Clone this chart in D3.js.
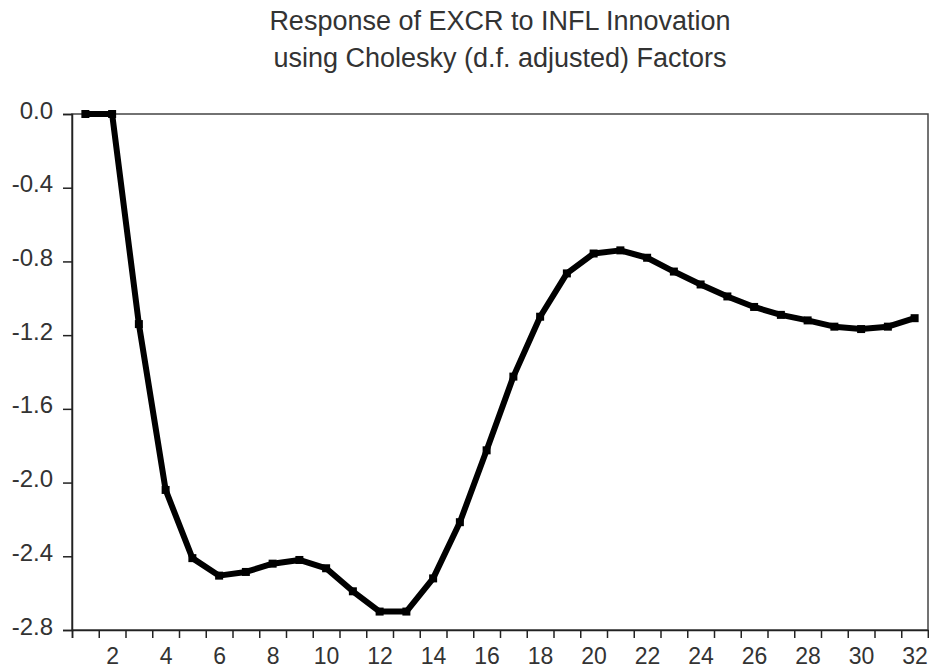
<!DOCTYPE html>
<html>
<head>
<meta charset="utf-8">
<script src="https://cdn.jsdelivr.net/npm/d3@7"></script>
<style>
  body { margin: 0; background: #fff; }
  text { font-family: "Liberation Sans", Arial, sans-serif; fill: #333; }
</style>
</head>
<body>
<script>
/*global d3*/

var width = 929, height = 669;

// chart data
var titleLines = ["Response of EXCR to INFL Innovation", "using Cholesky (d.f. adjusted) Factors"];
var periods = d3.range(1, 33);
var response = [0, 0, -1.14, -2.04, -2.41, -2.505, -2.485, -2.44, -2.42, -2.465,
                -2.59, -2.70, -2.70, -2.52, -2.215, -1.825, -1.425, -1.10, -0.865, -0.757,
                -0.74, -0.78, -0.855, -0.925, -0.99, -1.047, -1.09, -1.12, -1.154, -1.167,
                -1.154, -1.108];
var yTicks = [0, -0.4, -0.8, -1.2, -1.6, -2.0, -2.4, -2.8];
var xLabels = d3.range(2, 33, 2);

var plotL = 72, plotR = 928, plotT = 114, plotB = 630;

var svg = d3.select("body")
            .append("svg")
            .attr("width", width)
            .attr("height", height);

var x = d3.scaleLinear().domain([0.5, 32.5]).range([plotL, plotR]);
var y = d3.scaleLinear().domain([-2.8, 0]).range([plotB, plotT]);

// title
svg.selectAll(".title")
    .data(titleLines)
    .enter().append("text")
    .attr("class", "title")
    .attr("text-anchor", "middle")
    .attr("font-size", 27)
    .attr("x", (plotL + plotR) / 2)
    .attr("y", function (d, i) { return 30 + i * 37; })
    .text(function (d) { return d; });

// frame
svg.append("rect")
    .attr("x", plotL).attr("y", plotT)
    .attr("width", plotR - plotL).attr("height", plotB - plotT)
    .attr("fill", "none")
    .attr("stroke", "#444")
    .attr("stroke-width", 1.5);

// y axis
var yAxis = svg.append("g")
    .attr("transform", "translate(" + plotL + ",0)")
    .call(d3.axisLeft(y).tickValues(yTicks).tickSize(9).tickPadding(0)
        .tickFormat(function (d) { return d.toFixed(1); }));
yAxis.select(".domain").attr("stroke", "#222").attr("stroke-width", 1.5);
yAxis.selectAll(".tick line").attr("stroke", "#222").attr("stroke-width", 1.5);
yAxis.selectAll(".tick text")
    .attr("font-size", 24)
    .attr("x", -19)
    .attr("dy", null)
    .attr("y", 4);

// x axis: ticks at period boundaries
var bounds = d3.range(0.5, 33, 1);
var xAxis = svg.append("g")
    .attr("transform", "translate(0," + plotB + ")")
    .call(d3.axisBottom(x).tickValues(bounds).tickSize(8).tickFormat(""));
xAxis.select(".domain").attr("stroke", "#222").attr("stroke-width", 1.5);
xAxis.selectAll(".tick line").attr("stroke", "#222").attr("stroke-width", 1.5);

// x labels at period centres
var xLab = svg.append("g")
    .attr("transform", "translate(0," + plotB + ")")
    .call(d3.axisBottom(x).tickValues(xLabels).tickSize(0).tickPadding(0)
        .tickFormat(d3.format("d")));
xLab.select(".domain").remove();
xLab.selectAll(".tick text")
    .attr("font-size", 23)
    .attr("dy", null)
    .attr("y", 34);

// response line
var line = d3.line()
    .x(function (d, i) { return x(periods[i]); })
    .y(function (d) { return y(d); });

svg.append("path")
    .datum(response)
    .attr("d", line)
    .attr("fill", "none")
    .attr("stroke", "#000")
    .attr("stroke-width", 6)
    .attr("stroke-linejoin", "round");

svg.selectAll(".pt")
    .data(response)
    .enter().append("rect")
    .attr("class", "pt")
    .attr("x", function (d, i) { return x(periods[i]) - 4; })
    .attr("y", function (d) { return y(d) - 4; })
    .attr("width", 8)
    .attr("height", 8)
    .attr("fill", "#000");
</script>
</body>
</html>
